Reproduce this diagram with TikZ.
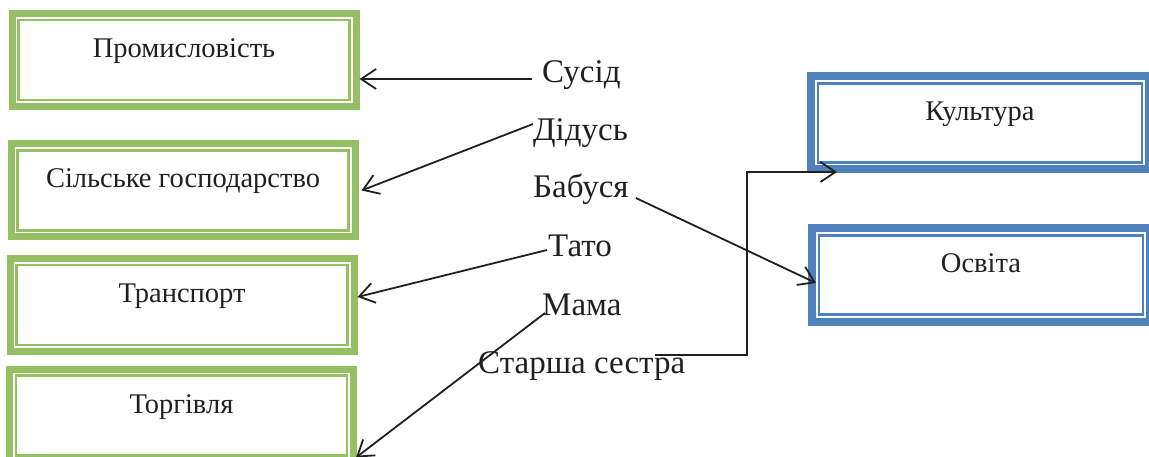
\documentclass[tikz,border=0pt]{standalone}
\usepackage{fontspec}
\setmainfont{Liberation Serif}
\usetikzlibrary{arrows.meta}
\definecolor{boxgreen}{HTML}{94BF63}
\definecolor{boxblue}{HTML}{4F81BD}
\definecolor{ink}{HTML}{231F20}

\tikzset{
  boxframe/.style={line width=#1, minimum height=93pt, inner sep=0pt,
    text height=44pt, text depth=49pt, font=\fontsize{28.5}{34}\selectfont, text=ink},
  greenbox/.style={boxframe=7pt, draw=boxgreen, minimum width=344pt,
    path picture={\draw[boxgreen, line width=2.2pt]
      ([shift={(6.5pt,-6.5pt)}]path picture bounding box.north west) rectangle
      ([shift={(-6.5pt,6.5pt)}]path picture bounding box.south east);}},
  bluebox/.style={boxframe=8pt, draw=boxblue, minimum width=338pt,
    path picture={\draw[boxblue, line width=2.2pt]
      ([shift={(7pt,-7pt)}]path picture bounding box.north west) rectangle
      ([shift={(-7pt,7pt)}]path picture bounding box.south east);}},
  member/.style={anchor=base west, inner sep=0pt, font=\fontsize{33}{40}\selectfont, text=ink},
  arr/.style={-{Straight Barb[length=15pt,width=20pt]}, line width=1.8pt, draw=ink}
}

\begin{document}
\begin{tikzpicture}[x=1pt, y=-1pt]
\useasboundingbox (0,0) rectangle (1149,457);
\clip (0,0) rectangle (1149,457);
% Green boxes
\node[greenbox] (prom) at (184,60) {Промисловість};
\node[greenbox] (silgosp) at (183,190.5) {Сільське господарство};
\node[greenbox] (transp) at (182,305) {Транспорт};
\node[greenbox] (torg) at (181.5,415.5) {Торгівля};
% Blue boxes
\node[bluebox] (kult) at (980,123) {Культура};
\node[bluebox] (osvita) at (981,275) {Освіта};
% Family members
\node[member] (susid) at (542,83) {Сусід};
\node[member] (didus) at (533,141) {Дідусь};
\node[member] (babusia) at (533,198) {Бабуся};
\node[member] (tato) at (548,257) {Тато};
\node[member] (mama) at (542,315) {Мама};
\node[member] (sestra) at (478,373) {Старша сестра};
% Arrow starts
\coordinate (s1) at ([shift={(-10pt,4pt)}]susid.base west);
\coordinate (s2) at ([shift={(0pt,17pt)}]didus.base west);
\coordinate (s3) at ([shift={(7pt,0pt)}]babusia.base east);
\coordinate (s4) at ([shift={(-1pt,7pt)}]tato.base west);
\coordinate (s5) at ([shift={(3pt,2pt)}]mama.base west);
\coordinate (s6) at ([shift={(-30pt,18pt)}]sestra.base east);
\coordinate (kend) at ([shift={(30pt,1.5pt)}]kult.south west);
% Arrows
\draw[arr] (s1) -- (s1 -| prom.east);
\draw[arr] (s2) -- ([xshift=3pt]silgosp.east);
\draw[arr] (s3) -- ([shift={(8pt,-8pt)}]osvita.west);
\draw[arr] (s4) -- ([yshift=8pt]transp.east);
\draw[arr] (s5) -- ([shift={(-1pt,8pt)}]torg.south east);
\draw[arr] (s6) -| ([xshift=-90pt]kend) -- (kend);
\end{tikzpicture}
\end{document}
